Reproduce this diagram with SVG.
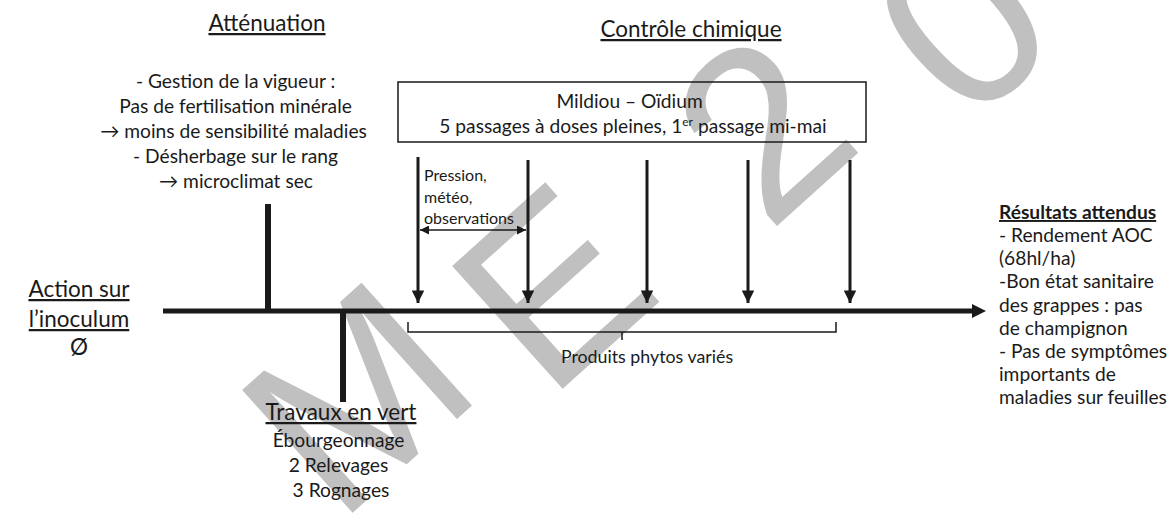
<svg xmlns="http://www.w3.org/2000/svg" width="1173" height="515" viewBox="0 0 1173 515">
<style>
.t{font-family:Lato,"Liberation Sans",sans-serif;fill:#1a1a1a}
.title{font-size:22.5px;text-decoration:underline}
.body{font-size:19.2px}
.small{font-size:16px}
.wm{font-family:"Liberation Sans",Arial,sans-serif;font-size:240px;fill:#c0c0c0}
.bar{stroke:#1a1a1a;stroke-width:6}
.arr{stroke:#1a1a1a;stroke-width:3;fill:none}
.thin{stroke:#1a1a1a;stroke-width:1.5;fill:none}
</style>
<defs>
<marker id="ah" viewBox="0 0 10 10" refX="10" refY="5" markerWidth="4.2" markerHeight="4.2" orient="auto" markerUnits="strokeWidth">
<path d="M0,0 L10,5 L0,10 z" fill="#1a1a1a"/>
</marker>
<marker id="ahs" viewBox="0 0 10 10" refX="10" refY="5" markerWidth="6" markerHeight="6" orient="auto-start-reverse" markerUnits="strokeWidth">
<path d="M0,0 L10,5 L0,10 z" fill="#1a1a1a"/>
</marker>
</defs>
<rect width="1173" height="515" fill="#ffffff"/>
<g id="watermark">
<text class="wm" x="338 548 768 968" y="526 402 234 129" rotate="-42">ME20</text>
</g>
<g id="connectors">
<line class="bar" x1="163" y1="311" x2="975" y2="311" style="stroke-width:5"/>
<path d="M972,304 L986,311 L972,318 z" fill="#1a1a1a"/>
<line class="bar" x1="268" y1="204" x2="268" y2="311"/>
<line class="bar" x1="343" y1="311" x2="343" y2="402"/>
<line class="arr" x1="418" y1="157" x2="418" y2="303" marker-end="url(#ah)"/>
<line class="arr" x1="528" y1="160" x2="528" y2="303" marker-end="url(#ah)"/>
<line class="arr" x1="647" y1="160" x2="647" y2="303" marker-end="url(#ah)"/>
<line class="arr" x1="748" y1="160" x2="748" y2="303" marker-end="url(#ah)"/>
<line class="arr" x1="850" y1="160" x2="850" y2="303" marker-end="url(#ah)"/>
<line class="thin" x1="420" y1="230" x2="526" y2="230" marker-start="url(#ahs)" marker-end="url(#ahs)"/>
<path class="thin" d="M408,322 V332 H836 V322 M622,332 V340"/>
</g>
<g id="attenuation">
<text class="t title" x="267" y="31" text-anchor="middle">Atténuation</text>
<text class="t body" text-anchor="middle">
<tspan x="238" y="88">- Gestion de la vigueur :</tspan>
<tspan x="238" y="113">Pas de fertilisation minérale</tspan>
<tspan x="236" y="138">→ moins de sensibilité maladies</tspan>
<tspan x="238" y="163">- Désherbage sur le rang</tspan>
<tspan x="236" y="188">→ microclimat sec</tspan>
</text>
</g>
<g id="controle">
<text class="t title" x="691" y="37" text-anchor="middle">Contrôle chimique</text>
<rect x="398" y="82" width="468" height="60" fill="none" stroke="#1a1a1a" stroke-width="1.5"/>
<text class="t body" text-anchor="middle">
<tspan x="632" y="108">Mildiou – Oïdium</tspan>
<tspan x="633" y="133">5 passages à doses pleines, 1<tspan dy="-7" style="font-size:12px">er</tspan><tspan dy="7"> passage mi-mai</tspan></tspan>
</text>
</g>
<g id="pression">
<text class="t small">
<tspan x="424" y="181">Pression,</tspan>
<tspan x="424" y="203">météo,</tspan>
<tspan x="424" y="224">observations</tspan>
</text>
</g>
<g id="produits">
<text class="t" style="font-size:17.8px" x="647" y="363" text-anchor="middle">Produits phytos variés</text>
</g>
<g id="inoculum">
<text class="t title" x="79" y="297" text-anchor="middle">Action sur</text>
<text class="t title" x="79" y="327" text-anchor="middle">l’inoculum</text>
<text class="t title" x="79" y="355" text-anchor="middle" style="text-decoration:none">Ø</text>
</g>
<g id="travaux">
<text class="t title" x="341" y="420" text-anchor="middle">Travaux en vert</text>
<text class="t body" text-anchor="middle">
<tspan x="341" y="447">Ébourgeonnage</tspan>
<tspan x="341" y="472">2 Relevages</tspan>
<tspan x="341" y="497">3 Rognages</tspan>
</text>
</g>
<g id="resultats">
<text class="t body" x="999" y="219" style="font-weight:bold;text-decoration:underline">Résultats attendus</text>
<text class="t body">
<tspan x="999" y="242">- Rendement AOC</tspan>
<tspan x="999" y="265">(68hl/ha)</tspan>
<tspan x="999" y="288">-Bon état sanitaire</tspan>
<tspan x="999" y="312">des grappes  : pas</tspan>
<tspan x="999" y="335">de champignon</tspan>
<tspan x="999" y="358">- Pas de symptômes</tspan>
<tspan x="999" y="381">importants de</tspan>
<tspan x="999" y="404">maladies sur feuilles</tspan>
</text>
</g>
</svg>
